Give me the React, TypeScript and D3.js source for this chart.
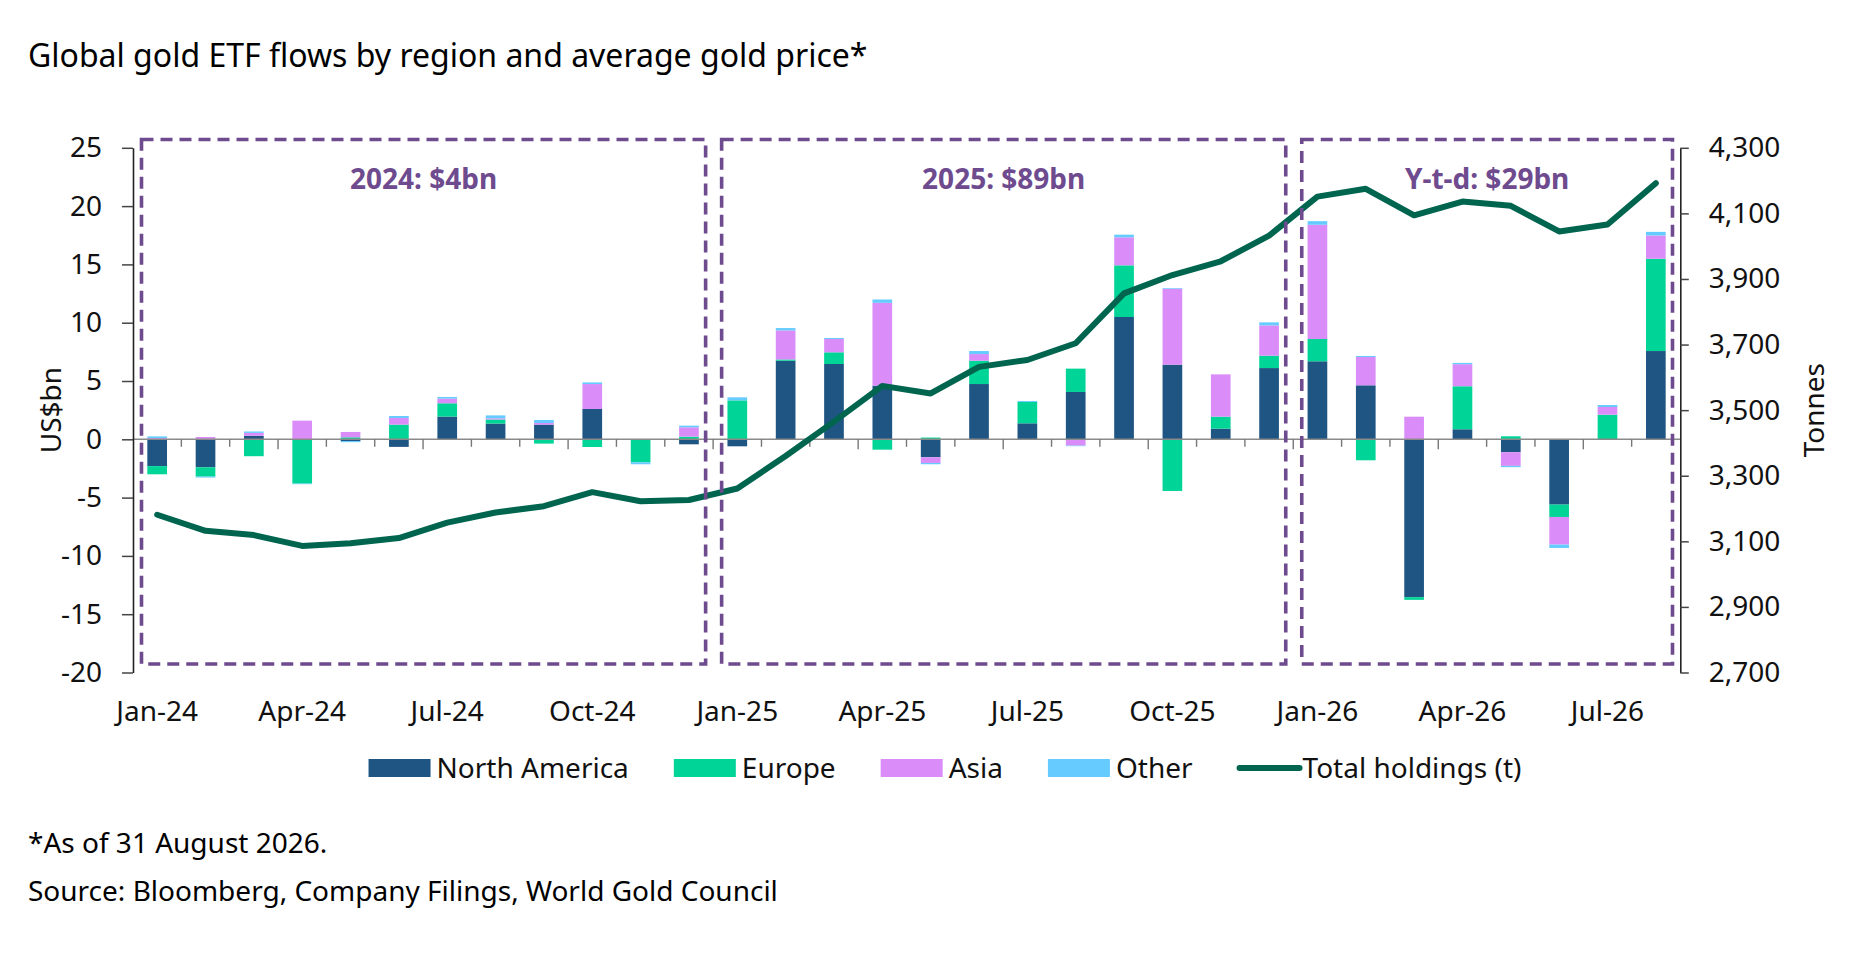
import React, { useEffect, useRef } from 'react';
import * as d3 from 'd3';

const months = [
  'Jan-24', 'Feb-24', 'Mar-24', 'Apr-24', 'May-24', 'Jun-24', 'Jul-24', 'Aug-24', 'Sep-24', 'Oct-24', 'Nov-24', 'Dec-24',
  'Jan-25', 'Feb-25', 'Mar-25', 'Apr-25', 'May-25', 'Jun-25', 'Jul-25', 'Aug-25', 'Sep-25', 'Oct-25', 'Nov-25', 'Dec-25',
  'Jan-26', 'Feb-26', 'Mar-26', 'Apr-26', 'May-26', 'Jun-26', 'Jul-26', 'Aug-26',
];

const northAmerica = [
  -2.3, -2.4, 0.3, 0, -0.15, -0.65, 1.95, 1.35, 1.26, 2.6, 0, -0.43,
  -0.6, 6.74, 6.46, 4.6, -1.54, 4.74, 1.37, 4.06, 10.49, 6.4, 0.91, 6.11,
  6.69, 4.63, -13.54, 0.86, -1.11, -5.6, 0, 7.57,
];
const europe = [
  -0.7, -0.8, -1.45, -3.8, 0.17, 1.26, 1.14, 0.35, -0.37, -0.66, -1.97, 0.23,
  3.34, 0.11, 1.0, -0.89, 0.15, 2.0, 1.83, 2.0, 4.43, -4.43, 1.03, 1.06,
  1.91, -1.8, -0.23, 3.69, 0.26, -1.06, 2.11, 7.91,
];
const asia = [
  0.1, 0.2, 0.25, 1.6, 0.46, 0.57, 0.4, 0.1, 0.14, 2.14, 0, 0.8,
  0, 2.49, 1.14, 7.1, -0.49, 0.57, 0, -0.54, 2.4, 6.51, 3.63, 2.6,
  9.8, 2.43, 1.94, 1.89, -1.17, -2.37, 0.66, 2.0,
];
const other = [
  0.15, -0.08, 0.12, -0.05, -0.1, 0.17, 0.14, 0.25, 0.26, 0.14, -0.17, 0.14,
  0.26, 0.2, 0.09, 0.29, -0.11, 0.26, 0.08, -0.05, 0.23, 0.06, 0, 0.26,
  0.31, 0.09, 0, 0.11, -0.11, -0.29, 0.17, 0.31,
];
const holdings = [
  3181, 3132, 3119, 3086, 3094, 3110, 3157, 3188, 3207, 3250, 3222, 3226,
  3261, 3360, 3465, 3574, 3551, 3632, 3653, 3704, 3856, 3912, 3954, 4032,
  4151, 4175, 4094, 4136, 4123, 4045, 4066, 4192,
];

const leftTicks = [25, 20, 15, 10, 5, 0, -5, -10, -15, -20];
const rightTicks = [4300, 4100, 3900, 3700, 3500, 3300, 3100, 2900, 2700];
const xTickLabels = ['Jan-24', 'Apr-24', 'Jul-24', 'Oct-24', 'Jan-25', 'Apr-25', 'Jul-25', 'Oct-25', 'Jan-26', 'Apr-26', 'Jul-26'];

const periodLabels = ['2024: $4bn', '2025: $89bn', 'Y-t-d: $29bn'];
const periodStarts = ['Jan-24', 'Jan-25', 'Jan-26'];
const periodEnds = ['Dec-24', 'Dec-25', 'Aug-26'];

const seriesNames = ['North America', 'Europe', 'Asia', 'Other'];
const seriesColors = ['#1F5583', '#00D496', '#DA8DF8', '#66CCFF'];
const lineName = 'Total holdings (t)';
const lineColor = '#00654F';
const boxColor = '#6E4A8E';

const title = 'Global gold ETF flows by region and average gold price*';
const footnote = '*As of 31 August 2026.';
const source = 'Source: Bloomberg, Company Filings, World Gold Council';

const FONT = '"Noto Sans", "Open Sans", sans-serif';

export default function App() {
  const ref = useRef<SVGSVGElement>(null);

  useEffect(() => {
    const svg = d3.select(ref.current);
    svg.selectAll('*').remove();
    const W = 1862;
    const H = 967;
    svg.append('rect').attr('width', W).attr('height', H).attr('fill', '#fff');

    const x = d3.scaleBand<string>().domain(months).range([133, 1680]);
    const bw = x.bandwidth();
    const barW = bw * 0.407;
    const yL = d3.scaleLinear().domain([-20, 25]).range([672.5, 147.8]);
    const yR = d3.scaleLinear().domain([2700, 4300]).range([672.5, 147.8]);

    const seriesData = [northAmerica, europe, asia, other];
    const rows = months.map((m, i) => {
      const r: any = { month: m };
      seriesNames.forEach((s, k) => (r[s] = seriesData[k][i]));
      return r;
    });
    const stacked = d3.stack<any>().keys(seriesNames).offset(d3.stackOffsetDiverging)(rows);

    // bars
    const gBars = svg.append('g');
    stacked.forEach((layer, k) => {
      gBars
        .append('g')
        .attr('fill', seriesColors[k])
        .selectAll('rect')
        .data(layer)
        .join('rect')
        .attr('x', (d: any) => (x(d.data.month) as number) + (bw - barW) / 2)
        .attr('width', barW)
        .attr('y', (d: any) => yL(Math.max(d[0], d[1])))
        .attr('height', (d: any) => Math.abs(yL(d[0]) - yL(d[1])));
    });

    // zero line and month ticks
    const y0 = yL(0);
    svg
      .append('line')
      .attr('x1', 133)
      .attr('x2', 1680)
      .attr('y1', y0)
      .attr('y2', y0)
      .attr('stroke', '#8a8a8a')
      .attr('stroke-width', 1.6);
    const boundaries = d3.range(1, months.length);
    svg
      .append('g')
      .selectAll('line')
      .data(boundaries)
      .join('line')
      .attr('x1', (k) => (x(months[k]) as number))
      .attr('x2', (k) => (x(months[k]) as number))
      .attr('y1', y0)
      .attr('y2', (k) => y0 + (k % 3 === 0 ? 10 : 7.5))
      .attr('stroke', '#777')
      .attr('stroke-width', 1.4);

    // left axis
    const axL = svg
      .append('g')
      .attr('transform', 'translate(133,0)')
      .call(
        d3
          .axisLeft(yL)
          .tickValues(leftTicks)
          .tickSize(11)
          .tickSizeOuter(0)
          .tickPadding(20)
          .tickFormat((d) => String(d))
      );
    axL.select('.domain').attr('stroke', '#222').attr('stroke-width', 1.6);
    axL.selectAll('.tick line').attr('stroke', '#444').attr('stroke-width', 1.5);
    axL.selectAll('.tick text').attr('font-size', 28).attr('font-family', FONT).attr('fill', '#111');

    // right axis
    const axR = svg
      .append('g')
      .attr('transform', 'translate(1680.3,0)')
      .call(
        d3
          .axisRight(yR)
          .tickValues(rightTicks)
          .tickSize(8.5)
          .tickSizeOuter(0)
          .tickPadding(20)
          .tickFormat(d3.format(','))
      );
    axR.select('.domain').attr('stroke', '#222').attr('stroke-width', 1.6);
    axR.selectAll('.tick line').attr('stroke', '#444').attr('stroke-width', 1.5);
    axR.selectAll('.tick text').attr('font-size', 28).attr('font-family', FONT).attr('fill', '#111');

    // axis titles
    svg
      .append('text')
      .attr('transform', `translate(61,${(147.8 + 672.5) / 2}) rotate(-90)`)
      .attr('text-anchor', 'middle')
      .attr('font-family', FONT)
      .attr('font-size', 28)
      .attr('fill', '#111')
      .text('US$bn');
    svg
      .append('text')
      .attr('transform', `translate(1823.5,${(147.8 + 672.5) / 2}) rotate(-90)`)
      .attr('text-anchor', 'middle')
      .attr('font-family', FONT)
      .attr('font-size', 28)
      .attr('fill', '#111')
      .text('Tonnes');

    // x tick labels
    svg
      .append('g')
      .selectAll('text')
      .data(xTickLabels)
      .join('text')
      .attr('x', (m) => (x(m) as number) + bw / 2)
      .attr('y', 721)
      .attr('text-anchor', 'middle')
      .attr('font-family', FONT)
      .attr('font-size', 28)
      .attr('fill', '#111')
      .text((m) => m);

    // holdings line
    const line = d3
      .line<number>()
      .x((_, i) => (x(months[i]) as number) + bw / 2)
      .y((v) => yR(v));
    svg
      .append('path')
      .attr('d', line(holdings) as string)
      .attr('fill', 'none')
      .attr('stroke', lineColor)
      .attr('stroke-width', 6)
      .attr('stroke-linejoin', 'round')
      .attr('stroke-linecap', 'round');

    // period boxes
    const gBox = svg.append('g');
    periodLabels.forEach((lab, i) => {
      const x0 = (x(periodStarts[i]) as number) + 8.5;
      const x1 = (x(periodEnds[i]) as number) + bw - 7.5;
      gBox
        .append('rect')
        .attr('x', x0)
        .attr('y', 139.5)
        .attr('width', x1 - x0)
        .attr('height', 664 - 139.5)
        .attr('fill', 'none')
        .attr('stroke', boxColor)
        .attr('stroke-width', 3.6)
        .attr('stroke-dasharray', '12 7');
      gBox
        .append('text')
        .attr('x', (x0 + x1) / 2)
        .attr('y', 189)
        .attr('text-anchor', 'middle')
        .attr('font-family', FONT)
        .attr('font-weight', 700)
        .attr('font-size', 28)
        .attr('fill', boxColor)
        .text(lab);
    });

    // legend
    const gLeg = svg.append('g');
    const items = [...seriesNames.map((n, k) => ({ name: n, color: seriesColors[k], isLine: false })), { name: lineName, color: lineColor, isLine: true }];
    let cx = 0;
    const legY = 768;
    items.forEach((it) => {
      if (it.isLine) {
        gLeg
          .append('line')
          .attr('x1', cx + 2)
          .attr('x2', cx + 62)
          .attr('y1', legY)
          .attr('y2', legY)
          .attr('stroke', it.color)
          .attr('stroke-width', 6)
          .attr('stroke-linecap', 'round');
      } else {
        gLeg.append('rect').attr('x', cx).attr('y', legY - 9).attr('width', 62).attr('height', 18).attr('fill', it.color);
      }
      cx += it.isLine ? 65 : 68;
      const t = gLeg
        .append('text')
        .attr('x', cx)
        .attr('y', legY + 10)
        .attr('font-family', FONT)
        .attr('font-size', 28)
        .attr('fill', '#111')
        .text(it.name);
      const w = (t.node() as SVGTextElement).getComputedTextLength();
      cx += w + 45;
    });
    const total = cx - 45;
    gLeg.attr('transform', `translate(${945 - total / 2},0)`);

    // title and footer
    svg
      .append('text')
      .attr('x', 28)
      .attr('y', 66.5)
      .attr('font-family', FONT)
      .attr('font-size', 32)
      .attr('fill', '#000')
      .text(title);
    svg
      .append('text')
      .attr('x', 28)
      .attr('y', 853)
      .attr('font-family', FONT)
      .attr('font-size', 28)
      .attr('fill', '#000')
      .text(footnote);
    svg
      .append('text')
      .attr('x', 28)
      .attr('y', 900.5)
      .attr('font-family', FONT)
      .attr('font-size', 28)
      .attr('fill', '#000')
      .text(source);
  }, []);

  return (
    <svg
      ref={ref}
      width={1862}
      height={967}
      style={{ position: 'absolute', left: 0, top: 0, display: 'block' }}
    />
  );
}
